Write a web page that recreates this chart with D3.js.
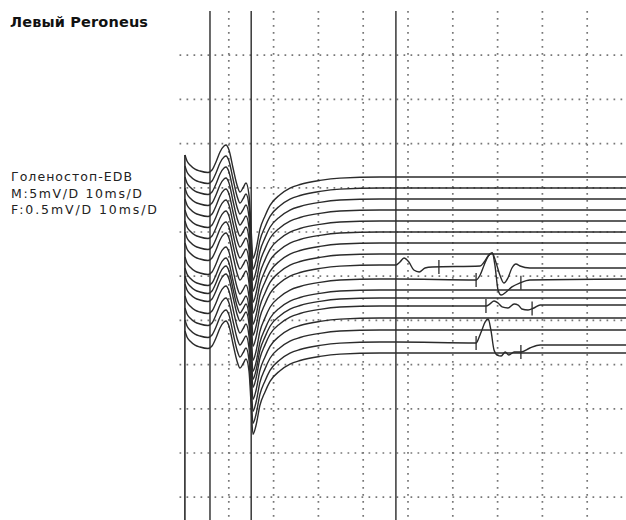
<!DOCTYPE html>
<html>
<head>
<meta charset="utf-8">
<script src="https://cdn.jsdelivr.net/npm/d3@7"></script>
<style>
html,body{margin:0;padding:0;background:#fff;}
svg{display:block;}
</style>
</head>
<body>
<svg id="chart" width="626" height="520"></svg>
<script>
// ---- data ----
const title = "Левый Peroneus";
const infoLines = ["Голеностоп-EDB", "M:5mV/D 10ms/D", "F:0.5mV/D 10ms/D"];
const mGain = 5;     // mV per division
const fGain = 0.5;   // mV per division
const msPerDiv = 10;
const gridTimes = [10, 20, 30, 40, 50, 60, 70, 80, 90];
const gridDivs = [1, 2, 3, 4, 5, 6, 7, 8, 9, 10, 11];
const cursorTimes = [5.8, 15.0, 47.3];
const stimulusTime = 0.2;
// baseline of each sweep, in divisions from top
const traceBaselines = [3.756, 4.005, 4.253, 4.502, 4.751, 5.0, 5.249, 5.498, 5.747, 6.063, 6.312, 6.493, 6.674, 6.946, 7.217, 7.489, 7.738];
// M response (same shape each sweep), ms / mV
const mTimes = [0.22, 0.67, 1.34, 2.46, 3.57, 5.36, 6.25, 7.14, 8.04, 8.93, 9.38, 10.04, 10.94, 11.83, 12.5, 13.17, 13.84, 14.51, 14.96, 15.4, 16.07, 16.96, 18.08, 19.2, 21.43, 23.66, 25.9, 30.36, 34.82, 43.75];
const mAmps  = [2.49, 1.81, 1.36, 0.90, 0.68, 0.51, 0.79, 1.70, 2.83, 3.51, 3.62, 3.05, 1.02, -0.90, -1.70, -1.24, -0.68, -2.04, -5.66, -9.2, -8.2, -5.9, -4.4, -3.2, -2.0, -1.25, -0.85, -0.38, -0.12, 0];
// late segment (F) default, ms / mV
const fDefaultTimes = [47.3, 98.7];
const fDefaultAmps = [0, 0];
// F-waves, per sweep index
const fWaveTraces = [8, 9, 12, 15];
const fWaveTimes = [
  [47.3, 48.2, 49.1, 50.2, 51.3, 52.5, 53.8, 55.4, 66.1, 67.0, 67.9, 68.8, 69.6, 70.5, 71.4, 72.3, 73.2, 74.1, 75.0, 77.2, 98.7],
  [47.3, 65.2, 66.1, 67.0, 67.9, 68.8, 69.4, 70.1, 70.8, 71.9, 73.2, 75.0, 77.2, 98.7],
  [47.3, 67.4, 68.3, 69.2, 70.1, 71.0, 72.3, 73.7, 74.6, 75.4, 76.8, 78.1, 79.5, 98.7],
  [47.3, 65.2, 65.8, 66.5, 67.2, 67.9, 68.5, 69.2, 69.9, 70.8, 71.7, 72.5, 73.7, 75.2, 77.2, 79.5, 98.7]
];
const fWaveAmps = [
  [0, 0.034, 0.079, 0.034, -0.057, -0.079, -0.034, -0.023, -0.011, 0.034, 0.102, 0.136, 0.034, -0.113, -0.204, -0.147, -0.034, 0.011, -0.011, -0.034, -0.034],
  [0, -0.011, 0.045, 0.158, 0.260, 0.294, 0.158, -0.124, -0.181, -0.147, -0.090, -0.045, -0.011, 0],
  [0, 0, 0.023, 0.057, 0.034, -0.011, -0.023, 0.023, 0.011, -0.034, -0.045, -0.023, 0.011, 0.011],
  [0, -0.011, 0.045, 0.136, 0.226, 0.260, 0.136, -0.090, -0.147, -0.158, -0.113, -0.147, -0.113, -0.113, -0.068, -0.034, -0.034]
];
// latency markers: sweep index and time (ms)
const markerTraces = [8, 9, 9, 12, 12, 15, 15];
const markerTimes  = [56.9, 65.2, 75.2, 67.4, 77.7, 65.2, 75.2];

// ---- drawing ----
const svg = d3.select("#chart");
const x = d3.scaleLinear().domain([0, 100]).range([184, 184 + 448]);
const y = d3.scaleLinear().domain([0, 11.5]).range([11, 11 + 11.5 * 44.2]);

// dotted grid
const gridColor = "#777";
svg.append("g").selectAll("line").data(gridDivs).join("line")
  .attr("x1", x(-1)).attr("x2", 626)
  .attr("y1", d => y(d)).attr("y2", d => y(d))
  .attr("stroke", gridColor).attr("stroke-width", 1.7)
  .attr("stroke-dasharray", "1.7,5.3");
svg.append("g").selectAll("line").data(gridTimes).join("line")
  .attr("x1", d => x(d)).attr("x2", d => x(d))
  .attr("y1", y(0)).attr("y2", 520)
  .attr("stroke", gridColor).attr("stroke-width", 1.7)
  .attr("stroke-dasharray", "1.7,5.3");

// cursor lines
svg.append("g").selectAll("line").data(cursorTimes).join("line")
  .attr("x1", d => x(d)).attr("x2", d => x(d))
  .attr("y1", y(0)).attr("y2", 520)
  .attr("stroke", "#383838").attr("stroke-width", 1.5);

// stimulus line
svg.append("line")
  .attr("x1", x(stimulusTime)).attr("x2", x(stimulusTime))
  .attr("y1", y(traceBaselines[0] - mAmps[0] / mGain)).attr("y2", 520)
  .attr("stroke", "#2a2a2a").attr("stroke-width", 1.6);

// traces
const line = d3.line().x(d => x(d[0])).y(d => y(d[1])).curve(d3.curveMonotoneX);
const traceData = traceBaselines.map((b, i) => {
  const pts = mTimes.map((t, j) => [t, b - mAmps[j] / mGain]);
  const fi = fWaveTraces.indexOf(i);
  const ft = fi >= 0 ? fWaveTimes[fi] : fDefaultTimes;
  const fa = fi >= 0 ? fWaveAmps[fi] : fDefaultAmps;
  ft.forEach((t, j) => pts.push([t, b - fa[j] / fGain]));
  return pts;
});
svg.append("g").selectAll("path").data(traceData).join("path")
  .attr("d", line)
  .attr("fill", "none").attr("stroke", "#2b2b2b").attr("stroke-width", 1.4);

// markers
const markerData = markerTraces.map((ti, i) => {
  const t = markerTimes[i];
  const fi = fWaveTraces.indexOf(ti);
  const amp = fi >= 0 ? d3.scaleLinear().domain(fWaveTimes[fi]).range(fWaveAmps[fi])(t) : 0;
  return [t, traceBaselines[ti] - amp / fGain];
});
svg.append("g").selectAll("line").data(markerData).join("line")
  .attr("x1", d => x(d[0])).attr("x2", d => x(d[0]))
  .attr("y1", d => y(d[1]) - 7).attr("y2", d => y(d[1]) + 7)
  .attr("stroke", "#2b2b2b").attr("stroke-width", 1.3);

// texts
svg.append("text").attr("x", 10).attr("y", 27)
  .attr("font-family", "DejaVu Sans, Verdana, sans-serif")
  .attr("font-weight", "bold").attr("font-size", 14.5)
  .attr("textLength", 138).attr("lengthAdjust", "spacing")
  .attr("fill", "#111").text(title);
const infoWidths = [121, 131, 146];
svg.append("g").selectAll("text").data(infoLines).join("text")
  .attr("x", 11).attr("y", (d, i) => 181 + i * 16.5)
  .attr("font-family", "DejaVu Sans, Verdana, sans-serif")
  .attr("font-size", 12.5).attr("fill", "#222")
  .attr("textLength", (d, i) => infoWidths[i]).attr("lengthAdjust", "spacing")
  .text(d => d);
</script>
</body>
</html>
